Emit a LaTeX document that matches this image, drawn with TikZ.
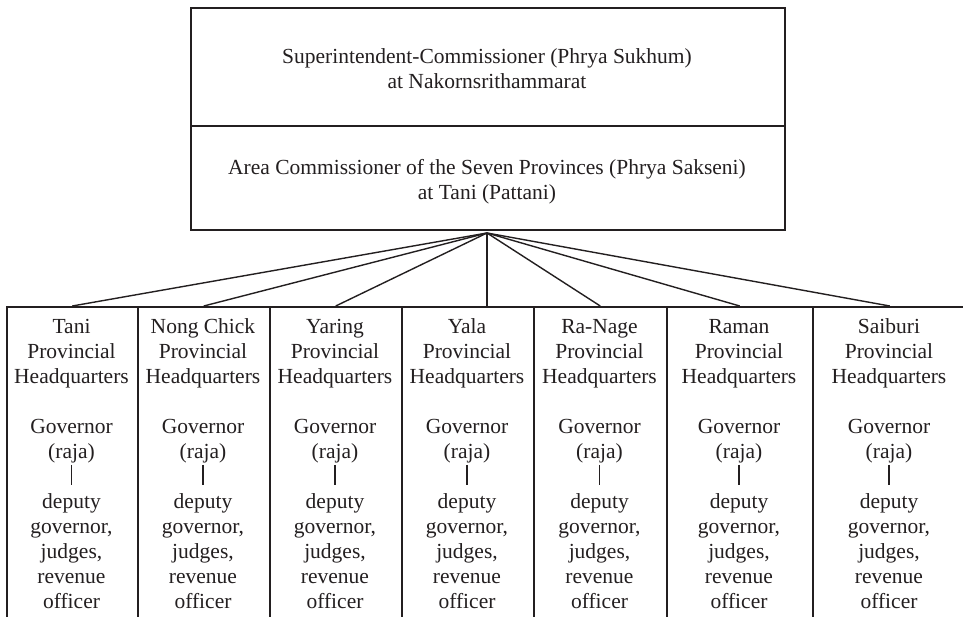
\documentclass[tikz,border=0pt]{standalone}
\usepackage{fontspec}
\setmainfont{Liberation Serif}
\definecolor{ink}{RGB}{35,31,32}
\begin{document}
\begin{tikzpicture}[x=1pt,y=-1pt,
  boxst/.style={draw=ink, line width=1.5pt, inner sep=0pt, anchor=north west},
  txt/.style={font=\fontsize{21.5}{25}\selectfont, text=ink, align=center, inner sep=0pt, anchor=base},
  link/.style={draw=ink, line width=1.4pt},
  barlink/.style={draw=ink, line width=1.2pt, shorten <=2pt, shorten >=8pt}]
\useasboundingbox (0,0) rectangle (963,616);
\clip (0,0) rectangle (963,616);
\fill[white] (0,0) rectangle (963,616);
% top boxes
\node[boxst, minimum width=594pt, minimum height=118pt] (sup) at (190,7) {};
\node[boxst, minimum width=594pt, minimum height=104pt] (area) at (190,125) {};
\node[txt] (suptext) at (487,88) {Superintendent-Commissioner (Phrya Sukhum)\\at Nakornsrithammarat};
\node[txt] (areatext) at (487,199) {Area Commissioner of the Seven Provinces (Phrya Sakseni)\\at Tani (Pattani)};
\coordinate (hub) at (487,233);
% provincial columns
\foreach \l/\r/\n/\t in {6/137/tani/Tani, 137/269/nong/Nong Chick, 269/401/yaring/Yaring, 401/533/yala/Yala, 533/666/ranage/Ra-Nage, 666/812/raman/Raman, 812/966/saiburi/Saiburi}{
  \pgfmathsetmacro\c{(\l+\r)/2}
  \pgfmathsetmacro\w{\r-\l}
  \node[boxst, minimum width=\w pt, minimum height=340pt] (box-\n) at (\l,306) {};
  \node[txt] (hq-\n) at (\c,383) {\t\\Provincial\\Headquarters};
  \node[txt] (gov-\n) at (\c,458) {Governor\\(raja)};
  \node[txt] (dep-\n) at (\c,608) {deputy\\governor,\\judges,\\revenue\\officer};
  \draw[barlink] (gov-\n.south) -- (dep-\n.north);
}
% fan connectors
\foreach \n in {tani,nong,yaring,ranage,raman,saiburi}{
  \draw[link] (hub) -- (box-\n.north);
}
\draw[link] (hub) -- (hub |- box-yala.north);
\end{tikzpicture}
\end{document}
